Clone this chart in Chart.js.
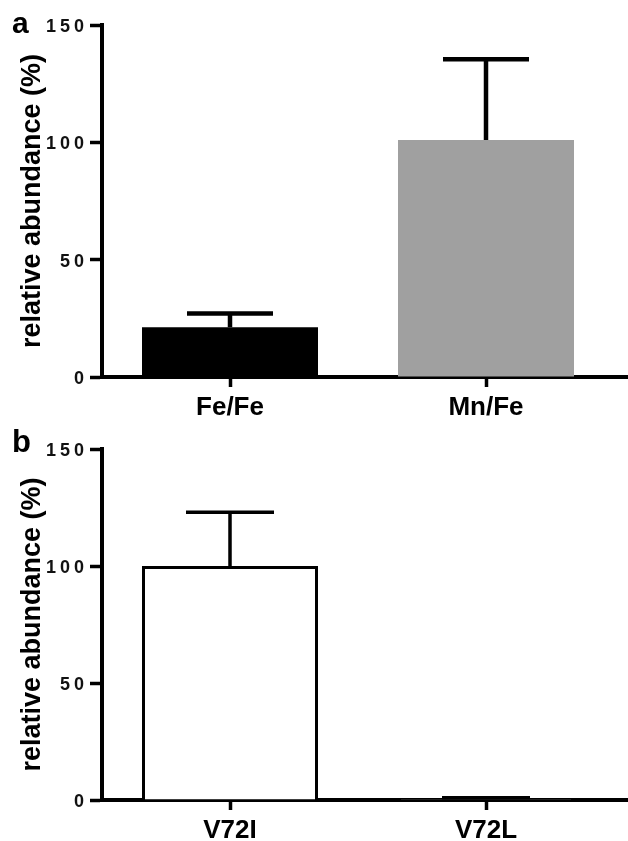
<!DOCTYPE html>
<html>
<head>
<meta charset="utf-8">
<script src="https://cdn.jsdelivr.net/npm/chart.js@4.4.0/dist/chart.umd.min.js"></script>
<style>
  html, body { margin: 0; padding: 0; background: #fff; }
  body { width: 628px; height: 841px; position: relative; overflow: hidden; font-family: "Liberation Sans", Arial, sans-serif; }
  .wrap { position: absolute; left: 0; width: 628px; }
  #wa { top: 0; height: 420px; }
  #wb { top: 420px; height: 421px; }
  .panel { position: absolute; font-weight: bold; color: #000; line-height: 1; }
  #la { left: 12px; top: 8px; font-size: 30px; }
  #lb { left: 12px; top: 426px; font-size: 31px; }
</style>
</head>
<body>
<div class="wrap" id="wa"><canvas id="ca" width="628" height="420"></canvas></div>
<div class="wrap" id="wb"><canvas id="cb" width="628" height="421"></canvas></div>
<div class="panel" id="la">a</div>
<div class="panel" id="lb">b</div>
<script>
// ---- data ----
const catsA = ['Fe/Fe', 'Mn/Fe'];
const valsA = [21.2, 101];
const errA = [5.9, 34.4];
const catsB = ['V72I', 'V72L'];
const valsB = [100, 0.5];
const errB = [23, 0.5];
const yTickValues = [0, 50, 100, 150];
const yTitle = 'relative abundance (%)';

// ---- letter-spaced linear scale for the y tick labels ----
class SpacedLinearScale extends Chart.LinearScale {
  drawLabels(area) {
    const ctx = this.ctx;
    ctx.save();
    ctx.letterSpacing = '4px';
    super.drawLabels(area);
    ctx.restore();
  }
}
SpacedLinearScale.id = 'spacedLinear';
SpacedLinearScale.defaults = Chart.LinearScale.defaults;
Chart.register(SpacedLinearScale);

const FONT = '"Liberation Sans", Arial, sans-serif';

function errPlugin(vals, errs, lw, half) {
  return {
    id: 'errbars',
    afterDatasetsDraw(chart) {
      const ctx = chart.ctx, xs = chart.scales.x, ys = chart.scales.y;
      ctx.save();
      ctx.strokeStyle = '#000';
      ctx.lineWidth = lw;
      ctx.lineCap = 'butt';
      vals.forEach((v, i) => {
        const x = xs.getPixelForValue(i);
        const y0 = ys.getPixelForValue(v);
        const y1 = ys.getPixelForValue(v + errs[i]);
        ctx.beginPath();
        ctx.moveTo(x, y0);
        ctx.lineTo(x, y1 - lw / 2);
        ctx.moveTo(x - half, y1);
        ctx.lineTo(x + half, y1);
        ctx.stroke();
      });
      ctx.restore();
    },
    afterDraw(chart) {
      // extend the x axis line to the right edge of the figure
      const ctx = chart.ctx, a = chart.chartArea;
      ctx.save();
      ctx.strokeStyle = '#000';
      ctx.lineWidth = 4;
      ctx.beginPath();
      ctx.moveTo(a.right - 2, a.bottom);
      ctx.lineTo(chart.width, a.bottom);
      ctx.stroke();
      ctx.restore();
    }
  };
}

function makeChart(id, cats, vals, errs, bg, bc, bw, padTop, xHeight, errLw, errHalf) {
  return new Chart(document.getElementById(id), {
    type: 'bar',
    data: {
      labels: cats,
      datasets: [{
        data: vals,
        backgroundColor: bg,
        borderColor: bc,
        borderWidth: bw,
        borderSkipped: 'start',
        categoryPercentage: 1,
        barPercentage: 0.6875
      }]
    },
    options: {
      responsive: false,
      animation: false,
      events: [],
      layout: { padding: { top: padTop, right: 14, left: 0, bottom: 0 } },
      plugins: { legend: { display: false }, tooltip: { enabled: false } },
      scales: {
        x: {
          offset: true,
          grid: { display: true, offset: false, drawOnChartArea: false, drawTicks: true, tickLength: 10, tickWidth: 3.5, tickColor: '#000' },
          border: { display: true, color: '#000', width: 4 },
          ticks: { color: '#000', padding: 5, font: { family: FONT, size: 26, weight: 'bold' }, maxRotation: 0 },
          afterFit(s) { s.height = xHeight; }
        },
        y: {
          type: 'spacedLinear',
          min: 0, max: 150,
          afterBuildTicks(s) { s.ticks = yTickValues.map(v => ({ value: v })); },
          grid: { display: true, drawOnChartArea: false, drawTicks: true, tickLength: 12, tickWidth: 3.5, tickColor: '#000' },
          border: { display: true, color: '#000', width: 4 },
          ticks: { color: '#111', padding: 2, labelOffset: 2, font: { family: FONT, size: 18, weight: 'bold' } },
          title: { display: true, text: yTitle, color: '#000', padding: { top: 16, bottom: 0 }, font: { family: FONT, size: 27, weight: 'bold' } },
          afterFit(s) { s.width = 102; }
        }
      }
    },
    plugins: [errPlugin(vals, errs, errLw, errHalf)]
  });
}

makeChart('ca', catsA, valsA, errA, ['#000000', '#a0a0a0'], '#000', 0, 25, 43, 4.5, 43);
makeChart('cb', catsB, valsB, errB, '#ffffff', '#000', 3, 29, 41, 3.5, 44);
</script>
</body>
</html>
